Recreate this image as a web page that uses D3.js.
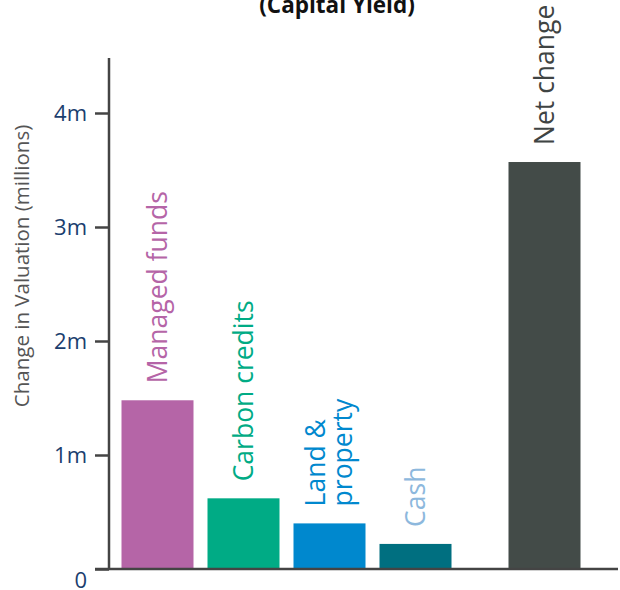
<!DOCTYPE html>
<html>
<head>
<meta charset="utf-8">
<script src="https://cdn.jsdelivr.net/npm/d3@7"></script>
<style>
  html, body { margin: 0; padding: 0; background: #fff; }
  svg { display: block; font-family: "Open Sans", "Noto Sans", sans-serif; }
</style>
</head>
<body>
<div id="chart"></div>
<script>
// Change in valuation by asset class, in millions
const categories = ["Managed funds", "Carbon credits", "Land & property", "Cash", "Net change"];
const labelLines = [["Managed funds"], ["Carbon credits"], ["Land &", "property"], ["Cash"], ["Net change"]];
const values = [1.48, 0.62, 0.40, 0.22, 3.57];
const barColors = ["#b565a7", "#00ab85", "#0088ce", "#006f80", "#434b48"];
const labelColors = ["#b565a7", "#00ab85", "#0088ce", "#8db8dd", "#3f4443"];
const yTicks = [0, 1, 2, 3, 4];
const yTickLabels = ["0", "1m", "2m", "3m", "4m"];

const W = 620, H = 590;
const svg = d3.select("#chart").append("svg").attr("width", W).attr("height", H);

const axisX = 109, baseY = 569, topY = 58;

const y = d3.scaleLinear().domain([0, 4]).range([baseY, baseY - 4 * 114]);

// Slot positions: the total bar sits an extra half step to the right
const slot = categories.map((c, i) => i < categories.length - 1 ? i : i + 0.5);
const x = d3.scaleLinear().domain([0, 1]).range([157.5, 243.5]);
const barW = 72;

// Title (second line)
svg.append("text")
  .attr("x", 337).attr("y", 12.5)
  .attr("text-anchor", "middle")
  .attr("font-weight", "bold").attr("font-size", 22.5)
  .attr("fill", "#111")
  .text("(Capital Yield)");

// Bars
svg.selectAll("rect.bar").data(values).join("rect")
  .attr("class", "bar")
  .attr("x", (d, i) => x(slot[i]) - barW / 2)
  .attr("width", barW)
  .attr("y", d => y(d))
  .attr("height", d => y(0) - y(d))
  .attr("fill", (d, i) => barColors[i]);

// Rotated category labels above each bar
const lab = svg.selectAll("g.lab").data(values).join("g")
  .attr("class", "lab")
  .attr("transform", (d, i) => `translate(${x(slot[i])},${y(d) - 17}) rotate(-90)`);
lab.each(function (d, i) {
  const lines = labelLines[i];
  const lh = 27;
  const n = lines.length;
  const t = d3.select(this).append("text")
    .attr("font-size", 26.5)
    .attr("fill", labelColors[i])
    .attr("text-anchor", "start");
  lines.forEach((ln, k) => {
    t.append("tspan")
      .attr("x", 0)
      .attr("y", (k - (n - 1) / 2) * lh + 9)
      .text(ln);
  });
});

// Y axis
const yAxis = d3.axisLeft(y).tickValues(yTicks)
  .tickFormat((d, i) => yTickLabels[i]).tickSize(14).tickPadding(8);
const gy = svg.append("g").attr("transform", `translate(${axisX},0)`).call(yAxis);
gy.select(".domain").remove();
gy.selectAll(".tick line").attr("stroke", "#444").attr("stroke-width", 2.5);
gy.selectAll(".tick text")
  .attr("font-size", 22).attr("fill", "#1b3e6e")
  .attr("font-family", "'Open Sans', sans-serif");
gy.selectAll(".tick").filter(d => d === 0).select("text").attr("dy", "0.82em");

svg.append("line")
  .attr("x1", axisX).attr("x2", axisX)
  .attr("y1", topY).attr("y2", baseY)
  .attr("stroke", "#444").attr("stroke-width", 2.5);

// X baseline
svg.append("line")
  .attr("x1", axisX - 14).attr("x2", 618)
  .attr("y1", baseY).attr("y2", baseY)
  .attr("stroke", "#444").attr("stroke-width", 2.5);

// Y axis title
svg.append("text")
  .attr("transform", `translate(29,266) rotate(-90)`)
  .attr("text-anchor", "middle")
  .attr("font-size", 20.5).attr("fill", "#555")
  .text("Change in Valuation (millions)");
</script>
</body>
</html>
